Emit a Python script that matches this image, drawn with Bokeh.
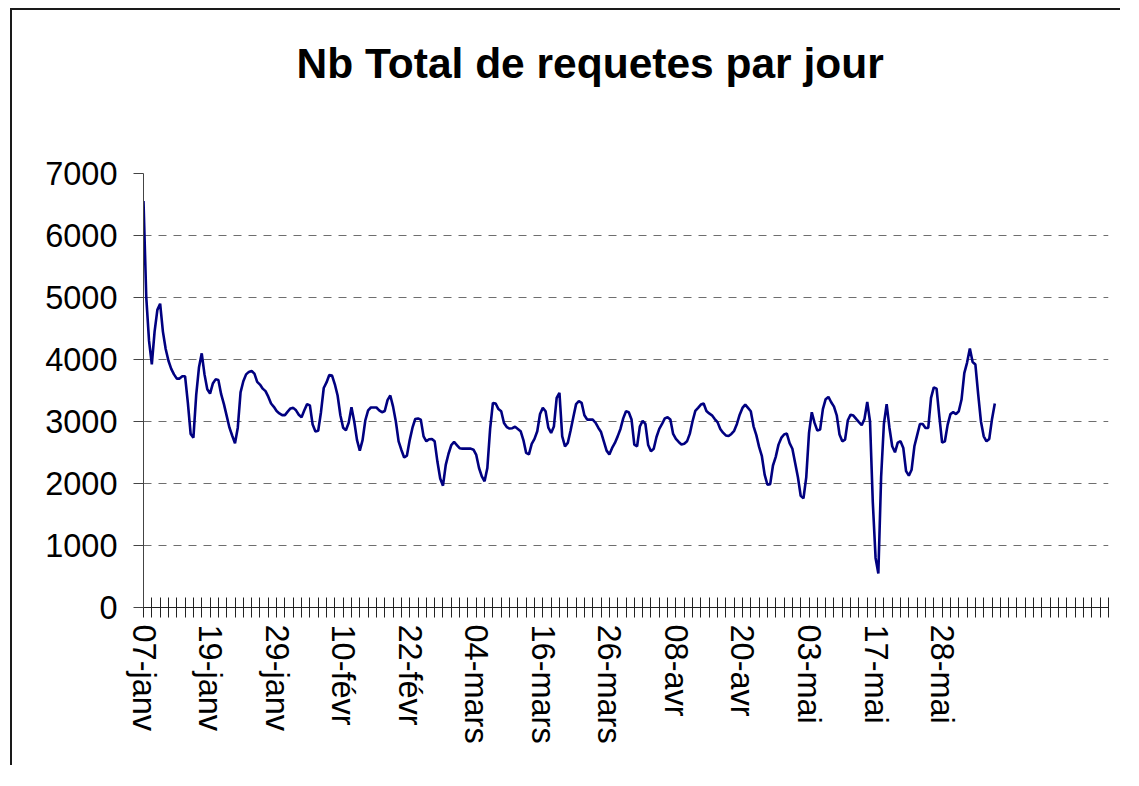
from bokeh.plotting import figure
from bokeh.models import Range1d, FixedTicker, LinearAxis
from bokeh.layouts import column
from bokeh.embed import file_html
from bokeh.resources import INLINE

# Daily request totals (one value per category on the x axis)
requetes = [
    6555, 5003, 4300, 3920, 4450, 4800, 4900, 4450, 4170, 3980,
    3850, 3760, 3692, 3692, 3729, 3729, 3300, 2800, 2740, 3424,
    3870, 4100, 3760, 3520, 3451, 3612, 3680, 3670, 3440, 3280,
    3090, 2900, 2770, 2650, 2900, 3470, 3650, 3760, 3800, 3815,
    3772, 3640, 3595, 3530, 3490, 3400, 3290, 3237, 3170, 3130,
    3103, 3103, 3160, 3210, 3220, 3180, 3110, 3070, 3180, 3280,
    3260, 2950, 2840, 2850, 3150, 3540, 3630, 3750, 3740, 3600,
    3420, 3100, 2900, 2860, 2980, 3230, 3000, 2700, 2530, 2700,
    3020, 3180, 3226, 3226, 3226, 3180, 3150, 3170, 3344, 3420,
    3240, 3000, 2680, 2541, 2420, 2450, 2700, 2900, 3040, 3050,
    3030, 2760, 2681, 2715, 2719, 2680, 2350, 2080, 1965, 2300,
    2480, 2620, 2670, 2620, 2570, 2563, 2563, 2563, 2563, 2545,
    2460, 2250, 2116, 2035, 2250, 2880, 3300, 3290, 3200, 3165,
    2977, 2910, 2886, 2892, 2915, 2880, 2843, 2700, 2493, 2470,
    2640, 2720, 2843, 3120, 3220, 3165, 2900, 2816, 2920, 3380,
    3462, 2760, 2600, 2654, 2850, 3070, 3280, 3327, 3300, 3100,
    3031, 3031, 3031, 2980, 2900, 2830, 2680, 2530, 2470, 2573,
    2654, 2760, 2880, 3050, 3165, 3150, 3031, 2627, 2600, 2920,
    3010, 2960, 2620, 2520, 2560, 2750, 2880, 2960, 3050, 3068,
    3031, 2800, 2720, 2670, 2630, 2640, 2680, 2800, 3004, 3170,
    3220, 3273, 3289, 3170, 3130, 3100, 3040, 2990, 2880, 2820,
    2775, 2765, 2800, 2850, 2960, 3110, 3219, 3273, 3219, 3165,
    2923, 2780, 2590, 2440, 2143, 1980, 1990, 2290, 2430, 2627,
    2735, 2790, 2805, 2650, 2560, 2331, 2100, 1800, 1760, 2100,
    2816, 3149, 2977, 2853, 2870, 3200, 3360, 3397, 3310, 3240,
    3100, 2790, 2681, 2708, 3020, 3110, 3096, 3042, 2990, 2940,
    3040, 3316, 3000, 1700, 800, 550, 2100, 2960, 3280, 2900,
    2600, 2503, 2660, 2681, 2573, 2200, 2127, 2223, 2600, 2780,
    2960, 2960, 2896, 2896, 3380, 3550, 3530, 3080, 2660, 2681,
    2950, 3120, 3150, 3120, 3165, 3354, 3780, 3950, 4178, 3960,
    3919, 3440, 3000, 2762, 2681, 2719, 3042, 3289,
]

# Date labels shown on the category axis
date_labels = ["07-janv", "19-janv", "29-janv", "10-févr", "22-févr", "04-mars",
               "16-mars", "26-mars", "08-avr", "20-avr", "03-mai", "17-mai", "28-mai"]
label_every = 24      # categories between two labels
tick_every = 3        # categories between two tick marks
n_categories = 348    # length of the category axis

y_ticks = [0, 1000, 2000, 3000, 4000, 5000, 6000, 7000]
grid_values = [1000, 2000, 3000, 4000, 5000, 6000]

title_text = "Nb Total de requetes par jour"

FONT = "Liberation Sans"

p = figure(width=1120, height=765, output_backend="svg", toolbar_location=None,
           x_range=Range1d(0, n_categories), y_range=Range1d(0, 7000),
           min_border_left=143, min_border_right=12,
           min_border_top=173, min_border_bottom=158,
           title=title_text)
p.background_fill_color = "white"
p.border_fill_color = None
p.outline_line_color = None

# invisible spacer axis between the title and the plot area
spacer = LinearAxis(ticker=FixedTicker(ticks=[0]), axis_line_color=None,
                    major_tick_line_color="white", minor_tick_line_color=None,
                    major_tick_in=0, major_tick_out=82, minor_tick_out=0,
                    major_label_standoff=0, major_label_overrides={0: ""},
                    major_label_text_font_size="1px")
p.add_layout(spacer, "above")

p.title.text_font = FONT
p.title.text_font_size = "42.5px"
p.title.text_font_style = "bold"
p.title.text_color = "black"
p.title.align = "left"
p.title.offset = 153
p.title.standoff = 10

x = list(range(len(requetes)))
p.line(x, requetes, line_color="#000080", line_width=2.6)

# x axis
tick_positions = list(range(0, n_categories + 1, tick_every))
overrides = {t: "" for t in tick_positions}
for i, lab in enumerate(date_labels):
    overrides[i * label_every] = lab
xaxis = p.below[0]
xaxis.ticker = FixedTicker(ticks=tick_positions)
xaxis.major_label_overrides = overrides
xaxis.major_label_orientation = "vertical"
xaxis.major_label_text_font = FONT
xaxis.major_label_text_font_size = "32.5px"
xaxis.major_label_text_color = "black"
xaxis.major_label_standoff = 7
xaxis.major_tick_in = 10
xaxis.major_tick_out = 10
xaxis.minor_tick_line_color = None
xaxis.axis_line_color = "#222222"
xaxis.major_tick_line_color = "#222222"

# y axis
p.yaxis.ticker = FixedTicker(ticks=y_ticks)
p.yaxis.major_label_text_font = FONT
p.yaxis.major_label_text_font_size = "32.5px"
p.yaxis.major_label_text_color = "black"
p.yaxis.major_label_standoff = 16
p.yaxis.major_tick_in = 0
p.yaxis.major_tick_out = 10
p.yaxis.minor_tick_line_color = None
p.yaxis.axis_line_color = "#444444"
p.yaxis.major_tick_line_color = "#444444"

p.xgrid.grid_line_color = None
p.ygrid.ticker = FixedTicker(ticks=grid_values)
p.ygrid.grid_line_color = "#6e6e6e"
p.ygrid.grid_line_width = 1.2
p.ygrid.grid_line_dash = "8 7"

# chart-area frame: only its left and top edges fall inside the window
layout = column(p)
layout.styles = {
    "background-color": "white",
    "background-image": ("linear-gradient(#1a1a1a, #1a1a1a), "
                         "linear-gradient(#1a1a1a, #1a1a1a)"),
    "background-size": "2px 760px, 1110px 2px",
    "background-position": "10px 8px, 10px 8px",
    "background-repeat": "no-repeat, no-repeat",
}

open("out.html", "w").write(file_html(layout, INLINE))
